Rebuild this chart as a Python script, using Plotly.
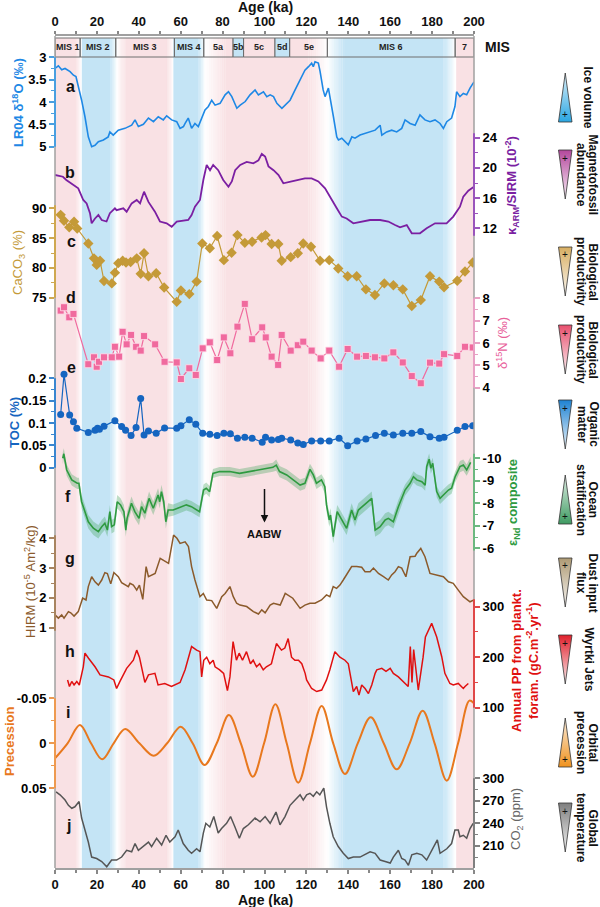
import plotly.graph_objects as go

# ------------------------------------------------------------------ data
# a: LR04 benthic d18O (permil)
a_age = [0, 1.6, 3.2, 4.8, 7.2, 8.8, 10, 11.1, 12.7, 14.3,
         15.9, 17.5, 19.1, 20.7, 23.1, 25.4, 26.2, 27.8, 30.2, 33.4,
         36.6, 38.2, 39.8, 42.2, 44.6, 47, 49.3, 51.7, 53.3, 55.7,
         58.1, 59.7, 61.3, 62.1, 63.6, 65.2, 66.8, 68.4, 70, 71.6,
         73.2, 74.8, 76.4, 78.8, 81.2, 82.8, 84.4, 86.8, 88.4, 90.8,
         93.1, 95.5, 97.1, 99.5, 101.1, 102.7, 104.3, 105.9, 108.3, 110.6,
         112.2, 114.6, 117, 119.3, 121, 122.5, 123.3, 124.1, 125.7, 126.5,
         128, 128.9, 130.5, 131.3, 132.9, 134.5, 135.3, 136.9, 138.5, 140,
         141.7, 143.2, 145.6, 148, 150.4, 152.8, 155.2, 156, 158.3, 160.7,
         163.1, 165.5, 167.1, 169.5, 171.9, 174.2, 176.6, 179, 181.4, 183.8,
         185.4, 187, 189.3, 190.9, 191.7, 193.3, 194.9, 196.5, 198.1, 200]
a_val = [3.25, 3.19, 3.28, 3.25, 3.32, 3.40, 3.43, 3.62, 3.96, 4.33,
         4.78, 5.0, 4.97, 4.89, 4.85, 4.78, 4.67, 4.74, 4.63, 4.59,
         4.52, 4.40, 4.55, 4.50, 4.36, 4.44, 4.33, 4.40, 4.31, 4.40,
         4.44, 4.59, 4.55, 4.48, 4.36, 4.59, 4.48, 4.55, 4.36, 4.18,
         4.10, 3.96, 4.07, 4.03, 3.84, 3.77, 3.88, 4.14, 4.07, 3.99,
         3.84, 3.73, 3.84, 3.77, 3.88, 3.84, 3.88, 4.03, 4.14, 4.03,
         3.96, 3.73, 3.51, 3.29, 3.21, 3.13, 3.21, 3.10, 3.13, 3.31,
         3.73, 3.88, 3.69, 3.88, 4.33, 4.78, 4.85, 4.81, 4.89, 4.96,
         4.78, 4.81, 4.74, 4.70, 4.67, 4.63, 4.52, 4.74, 4.67, 4.63,
         4.67, 4.59, 4.40, 4.48, 4.52, 4.29, 4.40, 4.44, 4.40, 4.48,
         4.59, 4.44, 4.36, 4.10, 3.77, 3.88, 3.81, 3.84, 3.69, 3.55]

# b: kARM/SIRM (10^-2)
b_age = [0, 3.8, 5.4, 7.8, 11.1, 13.5, 15.1, 16.7, 17.5, 19.1,
         20.7, 22.3, 24.6, 26.2, 28.6, 29.4, 32.6, 34.2, 36.6, 39,
         40.6, 42.5, 44.6, 47.7, 50.1, 53.3, 55.7, 58.1, 63.6, 65.2,
         66.8, 69.2, 70.8, 72.4, 74, 75.5, 77.9, 80.3, 82.8, 84.4,
         86, 88.4, 91.5, 94.7, 97.1, 98.7, 100.3, 101.9, 104.3, 106.7,
         109, 113, 117, 119.3, 122.5, 125.7, 128.9, 132, 134.5, 136.9,
         139.2, 142.4, 146.4, 150.4, 155.2, 159.1, 162.3, 164.7, 167.9, 170.3,
         174.2, 177.4, 181.4, 186.9, 190.1, 193.3, 194.9, 197.3, 200]
b_val = [19.06, 18.83, 18.4, 17.96, 17.3, 15.75, 15.3, 14.0, 12.66, 13.3,
         13.76, 13.1, 12.9, 14.0, 14.65, 14.4, 14.65, 14.2, 15.3, 15.75,
         15.3, 16.85, 15.5, 14.2, 12.9, 12.66, 12.2, 12.9, 13.1, 13.76,
         14.86, 15.75, 18.4, 20.4, 19.7, 20.4, 19.7, 18.4, 17.5, 18.2,
         19.7, 20.4, 20.8, 20.6, 21.0, 21.85, 21.5, 20.2, 19.7, 19.06,
         17.96, 18.2, 18.5, 18.6, 18.6, 18.2, 17.3, 15.75, 14.65, 13.55,
         13.3, 12.66, 12.9, 13.1, 13.1, 12.9, 12.43, 12.13, 12.43, 11.34,
         11.34, 12.0, 12.66, 12.66, 13.55, 14.86, 16.2, 16.98, 17.5]

# c: CaCO3 (%)
c_age = [2.7, 4.3, 6.8, 9.1, 10.6, 15.9, 18.6, 19.9, 21.5, 23.4,
         27.1, 28.6, 30.2, 32.3, 33.9, 36.1, 39, 40.9, 42.5, 44.6,
         48.3, 52.1, 58.1, 60.1, 64.1, 67.6, 70.3, 73.9, 77.4, 80.6,
         84.3, 87.1, 90.6, 94.1, 98.6, 100.5, 103.4, 106.6, 108.2, 112.5,
         115.9, 118.5, 122.2, 126.5, 130.9, 135.2, 139.7, 144, 148.4, 152.7,
         157.2, 161.5, 166, 170.3, 174.6, 179, 183.4, 185.7, 192, 195.7,
         199.4]
c_val = [88.9, 87.9, 86.8, 87.75, 86.6, 84.1, 81.6, 80.5, 81.2, 77.8,
         77.4, 79.2, 80.8, 81.2, 80.9, 81.0, 81.6, 79.0, 82.45, 78.6,
         79.1, 76.7, 74.3, 76.2, 75.6, 77.7, 84.1, 83.3, 85.35, 81.3,
         82.55, 85.5, 84.2, 84.4, 85.1, 85.5, 84.0, 84.0, 81.2, 81.8,
         82.45, 84.1, 83.55, 81.2, 81.3, 79.9, 78.6, 78.6, 76.4, 75.45,
         77.4, 77.1, 76.4, 73.6, 74.6, 78.6, 77.7, 76.75, 77.85, 79.4,
         80.9]

# d: d15N (permil)
d_age = [2.7, 4.3, 6.8, 8.8, 15.9, 18.6, 19.9, 21, 23.4, 27.1,
         28.6, 30.6, 32.3, 34.2, 36.3, 38.7, 40.9, 42.5, 47.8, 52.3,
         58.1, 60.1, 64.1, 67.2, 70.5, 73.9, 77.4, 80.6, 83.7, 87.1,
         90.6, 94.1, 98.9, 100.6, 103.4, 106.5, 108.2, 112.5, 115.9, 118.5,
         122.5, 126.8, 130.9, 135.6, 139.7, 144.2, 148.4, 152.7, 157.2, 161.5,
         166, 170.3, 174.6, 179, 183.4, 185.7, 192, 195.7, 199.4]
d_val = [7.45, 7.6, 7.15, 7.3, 5.05, 5.36, 4.94, 5.16, 5.36, 5.36,
         5.83, 5.39, 6.5, 5.94, 6.36, 5.83, 5.66, 6.31, 5.94, 5.16,
         5.13, 4.39, 4.87, 4.57, 5.76, 6.03, 5.24, 6.25, 5.54, 6.73,
         7.75, 6.17, 6.7, 6.25, 5.39, 5.02, 6.36, 5.66, 5.9, 6.06,
         5.66, 5.31, 5.66, 4.94, 5.73, 5.39, 5.42, 5.36, 5.31, 5.58,
         5.13, 4.52, 4.2, 5.12, 5.08, 5.5, 5.42, 5.83, 5.8]

# e: TOC (%)
e_age = [2.7, 4.3, 7, 8.8, 10.4, 15.9, 19.1, 20.3, 21.2, 23.4,
         28.6, 31.8, 33.7, 36.3, 38.7, 40.9, 42.5, 44.6, 48.3, 52.3,
         58.1, 60.1, 64.1, 67.2, 70.5, 73.9, 77.4, 80.6, 83.7, 87.1,
         90.6, 94.1, 98.9, 100.5, 103.4, 106.6, 108.2, 112.5, 115.9, 118.5,
         122.5, 126.8, 130.9, 135.6, 139.7, 144.2, 148.4, 153, 157.2, 161.5,
         166, 170.3, 174.6, 179, 183.4, 185.7, 192, 195.7, 199.4]
e_val = [0.119, 0.209, 0.118, 0.103, 0.088, 0.079, 0.084, 0.088, 0.086, 0.093,
         0.105, 0.092, 0.084, 0.072, 0.090, 0.155, 0.073, 0.082, 0.077, 0.089,
         0.088, 0.094, 0.107, 0.097, 0.077, 0.075, 0.072, 0.077, 0.076, 0.066,
         0.068, 0.066, 0.057, 0.068, 0.062, 0.063, 0.066, 0.062, 0.055, 0.052,
         0.060, 0.060, 0.060, 0.066, 0.049, 0.060, 0.064, 0.072, 0.077, 0.073,
         0.077, 0.077, 0.081, 0.069, 0.066, 0.068, 0.084, 0.092, 0.094]

# f: eNd composite and its uncertainty
f_age = [3.7, 4.2, 5.6, 8, 10.6, 11.4, 12.7, 14.3, 15.9, 18.3,
         20.7, 22.3, 23.8, 25, 26.2, 27, 28.3, 29.7, 31.3, 32.9,
         33.8, 34.4, 36.5, 38.1, 40.1, 41.3, 42.9, 44.9, 46.9, 49.2,
         50, 50.8, 51.9, 52.9, 54, 56.4, 59.6, 62.7, 65.1, 69,
         70.9, 72.2, 73.8, 75.4, 78.6, 83.4, 88.1, 93, 99.3, 104,
         105.6, 107.2, 110.6, 113.8, 117, 119.3, 121.7, 123.3, 124.8, 127.2,
         128.8, 129.6, 130.9, 131.5, 132.8, 134.7, 136.8, 139.2, 141.6, 143.2,
         144.8, 146.4, 151.2, 152.8, 155.2, 157.6, 159.1, 161.5, 163.9, 167.1,
         169.5, 171.1, 172.7, 175.1, 176.7, 177.4, 178.6, 179.4, 180.3, 182.2,
         183.8, 185.4, 187.8, 189.3, 191, 193.3, 194.9, 196.5, 198.4]
f_val = [-10.0, -10.2, -9.48, -9.04, -8.89, -8.89, -8.07, -7.63, -7.18, -6.89,
         -6.74, -6.96, -7.11, -6.81, -7.63, -6.96, -7.04, -8.07, -7.93, -7.63,
         -6.81, -7.33, -8.0, -7.63, -7.33, -7.85, -7.56, -8.22, -7.78, -8.37,
         -8.07, -8.52, -8.07, -7.18, -7.70, -7.70, -7.82, -7.93, -7.85, -7.63,
         -8.59, -8.67, -8.52, -9.33, -9.41, -9.41, -9.33, -9.41, -9.51, -9.6,
         -9.70, -9.41, -9.26, -9.04, -8.81, -8.89, -9.51, -9.26, -8.89, -9.04,
         -8.74, -7.93, -7.26, -7.48, -6.52, -7.63, -7.26, -6.89, -7.70, -7.26,
         -7.70, -7.82, -8.22, -6.81, -6.96, -7.26, -7.33, -7.18, -7.85, -8.59,
         -8.89, -9.18, -9.04, -8.96, -8.81, -9.63, -9.96, -9.56, -9.78, -8.52,
         -8.22, -8.37, -8.59, -8.67, -9.18, -9.63, -9.70, -9.48, -9.82]
f_err = [0.25, 0.25, 0.25, 0.25, 0.25, 0.25, 0.3, 0.3, 0.3, 0.3,
         0.3, 0.3, 0.3, 0.3, 0.3, 0.3, 0.3, 0.3, 0.3, 0.3,
         0.3, 0.3, 0.3, 0.3, 0.3, 0.3, 0.3, 0.3, 0.3, 0.3,
         0.3, 0.3, 0.3, 0.3, 0.3, 0.25, 0.25, 0.25, 0.25, 0.25,
         0.25, 0.25, 0.25, 0.2, 0.2, 0.2, 0.2, 0.2, 0.2, 0.2,
         0.25, 0.25, 0.25, 0.25, 0.25, 0.25, 0.25, 0.25, 0.25, 0.25,
         0.3, 0.3, 0.3, 0.3, 0.3, 0.3, 0.3, 0.3, 0.3, 0.3,
         0.3, 0.3, 0.3, 0.3, 0.3, 0.3, 0.3, 0.3, 0.3, 0.25,
         0.25, 0.25, 0.25, 0.25, 0.25, 0.25, 0.25, 0.25, 0.25, 0.25,
         0.25, 0.25, 0.25, 0.25, 0.25, 0.25, 0.25, 0.25, 0.25]

# g: HIRM (10^-5 Am2/kg)
g_age = [0, 1.6, 3.2, 4.3, 6.4, 7.5, 9.1, 11.1, 13.2, 14.8,
         15.9, 17.5, 19.1, 20.7, 22.3, 23.8, 25, 26.6, 28.1, 30.2,
         31.8, 33.4, 35, 35.8, 37.4, 39, 40.3, 41.9, 43.5, 44.6,
         47.8, 50.2, 52.6, 54.2, 56.6, 58.2, 59.7, 62.1, 63.7, 65.2,
         66.8, 69.2, 70.8, 72.4, 74.8, 77.2, 79.6, 81.2, 83.5, 85.1,
         86.7, 88.3, 91.5, 94.7, 97.1, 98.7, 100.3, 102.7, 104.3, 107.5,
         109.9, 111.5, 113.5, 117, 119.3, 121.7, 124.1, 127.2, 129.6, 131.2,
         132.8, 134.4, 136, 137.6, 140, 141.6, 144, 146.4, 148, 150.4,
         152, 154.4, 156.8, 159.1, 160.7, 162.3, 163.9, 165.5, 167.5, 169.5,
         171.9, 172.7, 174.6, 176.6, 179, 182.2, 185.4, 187.8, 190.1, 192.5,
         194.9, 198.1, 200]
g_val = [1.43, 1.32, 1.43, 1.32, 1.54, 1.5, 1.39, 1.54, 1.99, 1.93,
         2.38, 2.71, 2.54, 2.43, 2.6, 2.85, 2.82, 2.47, 2.85, 2.71,
         2.51, 2.43, 2.38, 2.49, 2.43, 2.26, 2.43, 1.95, 3.05, 2.71,
         2.82, 3.33, 3.21, 3.16, 4.11, 4.0, 3.83, 3.88, 3.72, 3.05,
         2.6, 2.04, 2.15, 1.93, 1.91, 1.65, 2.04, 2.15, 2.38, 2.04,
         1.82, 1.76, 1.71, 1.54, 1.46, 1.6, 1.5, 1.76, 1.82, 1.76,
         2.15, 2.07, 1.99, 1.65, 1.76, 1.82, 1.82, 1.93, 2.1, 2.04,
         2.38, 2.32, 2.43, 2.6, 2.88, 3.05, 3.05, 3.03, 2.88, 2.88,
         3.0, 2.82, 2.71, 2.6, 2.77, 2.88, 3.05, 3.0, 2.71, 3.38,
         3.40, 3.5, 3.66, 3.38, 2.82, 2.77, 2.71, 2.54, 2.49, 2.26,
         2.04, 1.87, 1.93]

# h: annual PP from planktonic foraminifera (gC m-2 yr-1)
h_age = [6, 6.9, 8, 9.1, 10.4, 11.6, 13.5, 14.3, 16, 19.1,
         21.5, 25.5, 28.1, 29.4, 31, 32.6, 34.2, 37.4, 39, 40.3,
         41.3, 42.9, 44.6, 47.7, 49.2, 52.4, 55.6, 57.3, 59.7, 62.1,
         65.2, 67.6, 69.2, 70, 71, 72.4, 73.9, 75.5, 76.4, 78.6,
         80.5, 82.3, 83.5, 85, 86.6, 87.9, 89.5, 91.4, 93.3, 94.6,
         96.2, 97.7, 99.4, 100.9, 103.3, 105.7, 108.1, 109.7, 111.3, 112.9,
         114.5, 116.2, 117.8, 119.4, 120.1, 122.5, 124.9, 127.3, 129.6, 131.2,
         132.8, 133.6, 136, 138.4, 140, 141.6, 142.4, 144, 145.1, 146.4,
         148, 149.6, 151.2, 152.8, 153.6, 156, 158, 160, 161.5, 163.9,
         167.1, 168.6, 169.6, 170.4, 171.2, 173.4, 175.7, 176.8, 179.8, 182.2,
         184.6, 186.1, 188.5, 190.1, 192.5, 194.9, 195.7, 197.3]
h_val = [155, 142, 152, 145, 152, 145, 181, 208, 198, 181,
         165, 161, 155, 138, 152, 165, 178, 194, 214, 200,
         181, 150, 165, 168, 145, 148, 142, 145, 150, 175,
         221, 214, 211, 161, 194, 200, 187, 194, 181, 175,
         168, 134, 161, 231, 194, 208, 194, 211, 187, 194,
         181, 187, 175, 181, 187, 227, 214, 218, 237, 200,
         194, 194, 187, 168, 155, 138, 132, 135, 155, 175,
         200, 211, 200, 194, 187, 152, 132, 142, 125, 145,
         138, 128, 145, 168, 175, 178, 172, 178, 168, 161,
         148, 142, 221, 150, 215, 135, 200, 240, 267, 240,
         201, 168, 148, 145, 148, 138, 142, 148]

# i: orbital precession (extrema and zero crossings)
i_age = [0, 6, 11.9, 17.2, 22.5, 28, 33.5, 40.3, 47.1, 53.5,
         60, 65.7, 71.4, 77.2, 83, 88.7, 94.4, 99.8, 105.2, 110.6,
         116.1, 121.7, 127.3, 132.8, 138.4, 144.5, 150.7, 156.9, 163.1, 169.3,
         175.5, 181.2, 187, 192.4, 197.8, 200]
i_val = [0.0167, 0, -0.0203, 0, 0.0178, 0, -0.0159, 0, 0.0138, 0,
         -0.0185, 0, 0.0241, 0, -0.0314, 0, 0.0371, 0, -0.0433, 0,
         0.0437, 0, -0.0414, 0, 0.0341, 0, -0.0289, 0, 0.0289, 0,
         -0.0363, 0, 0.0415, 0, -0.0474, -0.0444]

# j: atmospheric CO2 (ppm)
j_age = [0.5, 2.4, 4.8, 6.4, 8, 9.5, 11.5, 12.7, 14.3, 15.9,
         17.5, 19.9, 22.3, 24.7, 27, 29.4, 31.8, 34.2, 36.6, 38.2,
         39.8, 42.2, 44.6, 46.1, 48.5, 50.9, 53, 54.8, 57.3, 58.8,
         61.2, 63.6, 65.2, 67.6, 69.2, 70.8, 72, 73.9, 75.8, 77.9,
         79.5, 81.9, 83.8, 85.9, 88, 89.9, 92.3, 95.5, 97.9, 100.3,
         102.7, 105.5, 107.4, 109.8, 112.2, 114.6, 117, 118.5, 120.1, 121.7,
         123.3, 124.9, 126.4, 128.3, 129.6, 131.2, 132.8, 135.2, 137.6, 140,
         142.4, 145.6, 148, 150.4, 152.8, 155.2, 157.6, 160, 161.5, 163.9,
         165.5, 167.1, 168.7, 170.3, 172.7, 175.1, 177.4, 179.8, 181.4, 182.5,
         183.8, 187, 189.3, 190.9, 192.5, 193.3, 194.9, 196.5, 198.1, 199.6]
j_val = [282, 278, 271, 264, 260, 262, 269, 247, 231, 215,
         195, 193, 189, 182, 191, 191, 195, 204, 202, 213,
         204, 209, 215, 209, 220, 211, 224, 215, 222, 231,
         213, 204, 200, 206, 202, 227, 240, 235, 249, 227,
         233, 240, 249, 235, 220, 233, 238, 247, 242, 249,
         240, 255, 238, 249, 264, 271, 278, 271, 278, 280,
         276, 282, 278, 287, 262, 240, 222, 209, 200, 193,
         195, 195, 198, 202, 200, 191, 189, 187, 195, 204,
         193, 191, 184, 198, 200, 198, 191, 204, 211, 218,
         200, 206, 213, 231, 231, 222, 224, 220, 233, 240]

# climate stage shading and MIS boxes (ka)
band_start = [0, 12.8, 29.5, 56.5, 71.5, 130, 191.5]
band_end = [12.5, 29.5, 56.5, 71.5, 130, 191, 200]
band_kind = ["pink", "blue", "pink", "blue", "pink", "blue", "pink"]
band_fade_in = [0, 0, 4, 0, 10, 8, 0]
band_fade_out = [2.5, 3, 3, 3, 9, 5.5, 0]

mis_start = [0, 12, 29, 57, 71, 85, 90, 105, 112, 130, 191]
mis_end = [12, 29, 57, 71, 85, 90, 105, 112, 130, 191, 200]
mis_label = ["MIS 1", "MIS 2", "MIS 3", "MIS 4", "5a", "5b", "5c", "5d", "5e", "MIS 6", "7"]
mis_fill = [None, None, None, None, None, "blue", None, "blue", None, None, None]

age_ticks = [0, 20, 40, 60, 80, 100, 120, 140, 160, 180, 200]

# side legend
leg_labels = ["Ice volume", "Magnetofossil<br>abundance", "Biological<br>productivity",
              "Biological<br>productivity", "Organic<br>matter", "Ocean<br>stratification",
              "Dust input<br>flux", "Wyrtki Jets", "Orbital<br>precession", "Global<br>temperature"]
leg_colors = ["#2AA6E2", "#B4479C", "#D8AE62", "#E8506E", "#1E82D2",
              "#3F9B62", "#AE9A74", "#E0202C", "#F0921E", "#7F7F7F"]
leg_apex_up = [True, False, False, False, False, True, False, False, True, False]

# ------------------------------------------------------------------ geometry
W, H = 600, 907
X0, X1, YT, YB = 55, 474, 36, 868
FONT = "Liberation Sans, Arial, sans-serif"


def fx(p):
    return p / W


def fy(p):
    return (H - p) / H


def cal_range(v1, p1, v2, p2):
    s = (v2 - v1) / (p2 - p1)
    return [v1 + (YB - p1) * s, v1 + (YT - p1) * s]


def lighten(hx, f):
    r, g, b = int(hx[1:3], 16), int(hx[3:5], 16), int(hx[5:7], 16)
    r, g, b = [int(c + (255 - c) * f) for c in (r, g, b)]
    return "rgb(%d,%d,%d)" % (r, g, b)


fig = go.Figure()
shapes = []
ann = []

# ---------------------------------------------------------- background bands
BAND_RGB = {"pink": (249, 225, 228), "blue": (196, 228, 245)}
NSTEP = 10
band_y0, band_y1 = fy(YB), fy(38)
for s, e, k, fi, fo in zip(band_start, band_end, band_kind, band_fade_in, band_fade_out):
    r, g, b = BAND_RGB[k]
    f0, f1 = s + fi, e - fo
    shapes.append(dict(type="rect", xref="x", yref="paper", x0=f0, x1=f1, y0=band_y0, y1=band_y1,
                       fillcolor="rgb(%d,%d,%d)" % (r, g, b), line=dict(width=0), layer="below"))
    for j in range(NSTEP):
        if fi > 0:
            a = (j + 0.5) / NSTEP
            shapes.append(dict(type="rect", xref="x", yref="paper",
                               x0=s + fi * j / NSTEP, x1=s + fi * (j + 1) / NSTEP + 0.05,
                               y0=band_y0, y1=band_y1, fillcolor="rgba(%d,%d,%d,%.3f)" % (r, g, b, a),
                               line=dict(width=0), layer="below"))
        if fo > 0:
            a = 1 - (j + 0.5) / NSTEP
            shapes.append(dict(type="rect", xref="x", yref="paper",
                               x0=f1 + fo * j / NSTEP - 0.05, x1=f1 + fo * (j + 1) / NSTEP,
                               y0=band_y0, y1=band_y1, fillcolor="rgba(%d,%d,%d,%.3f)" % (r, g, b, a),
                               line=dict(width=0), layer="below"))

# MIS boxes
for s, e, lab, fill in zip(mis_start, mis_end, mis_label, mis_fill):
    shapes.append(dict(type="rect", xref="x", yref="paper", x0=s, x1=e, y0=fy(57), y1=fy(38),
                       fillcolor=("rgb(%d,%d,%d)" % BAND_RGB[fill]) if fill else "rgba(0,0,0,0)",
                       line=dict(color="#6E6E6E", width=1), layer="above"))
    ann.append(dict(text="<b>%s</b>" % lab, x=(s + e) / 2, xref="x", y=fy(47.5), yref="paper",
                    showarrow=False, font=dict(family=FONT, size=9, color="#222"),
                    xanchor="center", yanchor="middle"))
ann.append(dict(text="<b>MIS</b>", x=fx(483), y=fy(47.5), xref="paper", yref="paper", showarrow=False,
                font=dict(family=FONT, size=14, color="#111"), xanchor="left", yanchor="middle"))

# frame lines (grey left/right spines)
for xp in (X0, X1):
    shapes.append(dict(type="line", xref="paper", yref="paper", x0=fx(xp), x1=fx(xp),
                       y0=fy(YB), y1=fy(YT), line=dict(color="#A0A0A0", width=1.5)))

# ---------------------------------------------------------- panels / axes
panels = [
    dict(side="left", cal=(3, 57.3, 5, 146.7), tv=[3, 3.5, 4, 4.5, 5], tt=["3", "3.5", "4", "4.5", "5"],
         minor=[3.25, 3.75, 4.25, 4.75], seg=(3, 5), axc="#4A9FE0"),
    dict(side="right", cal=(24, 137.7, 12, 228.3), tv=[12, 16, 20, 24], tt=["12", "16", "20", "24"],
         minor=[14, 18, 22], seg=(11, 24.6), axc="#9A55BC"),
    dict(side="left", cal=(90, 208.3, 75, 297.7), tv=[75, 80, 85, 90], tt=["75", "80", "85", "90"],
         minor=[77.5, 82.5, 87.5], seg=(75, 90.5), axc="#CFA850"),
    dict(side="right", cal=(8, 298.3, 4, 387.7), tv=[4, 5, 6, 7, 8], tt=["4", "5", "6", "7", "8"],
         minor=[4.5, 5.5, 6.5, 7.5], seg=(4, 8), axc="#E8A0C4"),
    dict(side="left", cal=(0.2, 378.3, 0, 467.7), tv=[0, 0.05, 0.1, 0.15, 0.2],
         tt=["0", "0.05", "0.1", "0.15", "0.2"], minor=[0.025, 0.075, 0.125, 0.175], seg=(0, 0.2), axc="#3A86D0"),
    dict(side="right", cal=(-10, 458.3, -6, 548.3), tv=[-10, -9, -8, -7, -6],
         tt=["-10", "-9", "-8", "-7", "-6"], minor=[-9.5, -8.5, -7.5, -6.5], seg=(-10.2, -5.9), axc="#6CB880"),
    dict(side="left", cal=(4, 538.3, 1, 627.7), tv=[1, 2, 3, 4], tt=["1", "2", "3", "4"],
         minor=[1.5, 2.5, 3.5], seg=(0.9, 4.1), axc="#A88460"),
    dict(side="right", cal=(300, 606.7, 100, 707.7), tv=[100, 200, 300], tt=["100", "200", "300"],
         minor=[150, 250], seg=(100, 315), axc="#E04848"),
    dict(side="left", cal=(-0.05, 698.3, 0.05, 788.3), tv=[-0.05, 0, 0.05], tt=["-0.05", "0", "0.05"],
         minor=[-0.025, 0.025], seg=(-0.05, 0.05), axc="#EE9A50"),
    dict(side="right", cal=(300, 778.3, 180, 868.3), tv=[180, 210, 240, 270, 300],
         tt=["180", "210", "240", "270", "300"], minor=[195, 225, 255, 285], seg=(180, 300), axc="#808080"),
]

layout_axes = {}
for k, p in enumerate(panels):
    name = "yaxis" if k == 0 else "yaxis%d" % (k + 1)
    ref = "y" if k == 0 else "y%d" % (k + 1)
    ax = dict(domain=[fy(YB), fy(YT)], range=cal_range(*p["cal"]), anchor="x", side=p["side"],
              tickmode="array", tickvals=p["tv"], ticktext=p["tt"], ticks="outside", ticklen=5,
              tickwidth=1.5, tickcolor=p["axc"], showline=False, showgrid=False, zeroline=False,
              tickfont=dict(family=FONT, size=13, color="black", weight="bold"),
              minor=dict(tickmode="array", tickvals=p["minor"], ticks="outside", ticklen=3,
                         tickwidth=1, tickcolor=p["axc"], showgrid=False),
              fixedrange=True, automargin=False)
    if k > 0:
        ax["overlaying"] = "y"
    layout_axes[name] = ax
    xp = X0 if p["side"] == "left" else X1
    shapes.append(dict(type="line", xref="paper", yref=ref, x0=fx(xp), x1=fx(xp),
                       y0=p["seg"][0], y1=p["seg"][1], line=dict(color=p["axc"], width=2)))

# ---------------------------------------------------------- traces
C_A, C_B, C_C, C_D, C_E = "#1E88E5", "#7B1FA2", "#C49A38", "#F06A9E", "#1565C0"
C_F, C_G, C_H, C_I, C_J = "#2E9A40", "#8B5A2B", "#E01010", "#E8781E", "#555555"

fig.add_trace(go.Scatter(x=a_age, y=a_val, yaxis="y", mode="lines", line=dict(color=C_A, width=1.6)))
fig.add_trace(go.Scatter(x=a_age, y=a_val, xaxis="x2", yaxis="y", mode="lines",
                         line=dict(width=0), opacity=0, hoverinfo="skip"))
fig.add_trace(go.Scatter(x=b_age, y=b_val, yaxis="y2", mode="lines", line=dict(color=C_B, width=1.8)))
fig.add_trace(go.Scatter(x=c_age, y=c_val, yaxis="y3", mode="lines+markers",
                         line=dict(color=C_C, width=1.2),
                         marker=dict(symbol="diamond", size=8, color=C_C)))
fig.add_trace(go.Scatter(x=d_age, y=d_val, yaxis="y4", mode="lines+markers",
                         line=dict(color=C_D, width=1.2),
                         marker=dict(symbol="square", size=7, color=C_D, line=dict(color="#FFE0EC", width=0.8))))
fig.add_trace(go.Scatter(x=e_age, y=e_val, yaxis="y5", mode="lines+markers",
                         line=dict(color=C_E, width=1.2),
                         marker=dict(symbol="circle", size=7, color=C_E)))
f_hi = [v + e for v, e in zip(f_val, f_err)]
f_lo = [v - e for v, e in zip(f_val, f_err)]
fig.add_trace(go.Scatter(x=f_age, y=f_hi, yaxis="y6", mode="lines", line=dict(width=0), hoverinfo="skip"))
fig.add_trace(go.Scatter(x=f_age, y=f_lo, yaxis="y6", mode="lines", line=dict(width=0), fill="tonexty",
                         fillcolor="rgba(70,165,95,0.35)", hoverinfo="skip"))
fig.add_trace(go.Scatter(x=f_age, y=f_val, yaxis="y6", mode="lines", line=dict(color=C_F, width=1.6)))
fig.add_trace(go.Scatter(x=g_age, y=g_val, yaxis="y7", mode="lines", line=dict(color=C_G, width=1.5)))
fig.add_trace(go.Scatter(x=h_age, y=h_val, yaxis="y8", mode="lines", line=dict(color=C_H, width=1.5)))
fig.add_trace(go.Scatter(x=i_age, y=i_val, yaxis="y9", mode="lines",
                         line=dict(color=C_I, width=2, shape="spline", smoothing=1.0)))
fig.add_trace(go.Scatter(x=j_age, y=j_val, yaxis="y10", mode="lines", line=dict(color=C_J, width=1.5)))

# ---------------------------------------------------------- side legend (triangles)
TRI_L, TRI_R, TRI_H = 558.5, 572.0, 49
leg_top = [73, 150, 247, 325, 400, 475, 558, 635, 718, 803]
for lab, col, up, top in zip(leg_labels, leg_colors, leg_apex_up, leg_top):
    bot = top + TRI_H
    mid = (TRI_L + TRI_R) / 2
    if up:
        xs = [TRI_L, TRI_R, mid, TRI_L]
        ys = [H - bot, H - bot, H - top, H - bot]
        cs = [[0, col], [1, lighten(col, 0.85)]]
        plus_y = bot - 8
    else:
        xs = [TRI_L, TRI_R, mid, TRI_L]
        ys = [H - top, H - top, H - bot, H - top]
        cs = [[0, lighten(col, 0.92)], [1, col]]
        plus_y = top + 8
    fig.add_trace(go.Scatter(x=xs, y=ys, xaxis="x3", yaxis="y11", mode="lines", fill="toself",
                             fillgradient=dict(type="vertical", colorscale=cs),
                             line=dict(color="#333333", width=0.8), hoverinfo="skip"))
    ann.append(dict(text="+", x=fx(mid), y=fy(plus_y), xref="paper", yref="paper", showarrow=False,
                    font=dict(family=FONT, size=10, color="#111"), xanchor="center", yanchor="middle"))
    lines = lab.split("<br>")
    xs_txt = [588] if len(lines) == 1 else [593, 581.5]
    for line_txt, xt in zip(lines, xs_txt):
        ann.append(dict(text="<b>%s</b>" % line_txt, x=fx(xt), y=fy((top + bot) / 2), xref="paper",
                        yref="paper", showarrow=False, textangle=90,
                        font=dict(family=FONT, size=12, color="#111"),
                        xanchor="center", yanchor="middle"))

# ---------------------------------------------------------- texts
panel_letters = [("a", 70, 86), ("b", 70, 172), ("c", 71, 242), ("d", 71, 297), ("e", 71, 367),
                 ("f", 68, 496), ("g", 70, 558), ("h", 70, 652), ("i", 68, 713), ("j", 68, 825)]
for t, xp, yp in panel_letters:
    ann.append(dict(text="<b>%s</b>" % t, x=fx(xp), y=fy(yp), xref="paper", yref="paper", showarrow=False,
                    font=dict(family=FONT, size=16, color="#111"), xanchor="center", yanchor="middle"))

titles = [
    ("<b>LR04 δ<sup>18</sup>O (‰)</b>", 18, 103, C_A),
    ("CaCO<sub>3</sub> (%)", 18, 263, C_C),
    ("<b>TOC (%)</b>", 14, 423, C_E),
    ("HIRM (10<sup>-5</sup> Am<sup>2</sup>/kg)", 30, 582, C_G),
    ("<b>Precession</b>", 9, 742, C_I),
    ("<b>κ<sub>ARM</sub>/SIRM (10<sup>-2</sup>)</b>", 512, 186, C_B),
    ("δ<sup>15</sup>N (‰)", 502, 343, "#E8609A"),
    ("<b>ε<sub>Nd</sub> composite</b>", 513, 503, C_F),
    ("<b>Annual PP from plankt.<br>foram. (gC.m<sup>-2</sup>.yr<sup>-1</sup>)</b>", 525, 661, C_H),
    ("CO<sub>2</sub> (ppm)", 516, 819, "#666666"),
]
for t, xp, yp, c in titles:
    ann.append(dict(text=t, x=fx(xp), y=fy(yp), xref="paper", yref="paper", showarrow=False, textangle=-90,
                    font=dict(family=FONT, size=13, color=c), xanchor="center", yanchor="middle"))

ann.append(dict(text="<b>Age (ka)</b>", x=fx(265), y=fy(7.5), xref="paper", yref="paper", showarrow=False,
                font=dict(family=FONT, size=14, color="#111"), xanchor="center", yanchor="middle",
                borderpad=0))
ann.append(dict(text="<b>Age (ka)</b>", x=fx(265), y=fy(900), xref="paper", yref="paper", showarrow=False,
                font=dict(family=FONT, size=14, color="#111"), xanchor="center", yanchor="middle",
                borderpad=0))

# AABW arrow (in the eNd panel)
ann.append(dict(text="", x=100, y=-7.15, xref="x", yref="y6", ax=0, ay=-35, axref="pixel", ayref="pixel",
                showarrow=True, arrowhead=2, arrowsize=1, arrowwidth=1.5, arrowcolor="#111"))
ann.append(dict(text="<b>AABW</b>", x=100, y=-6.63, xref="x", yref="y6", showarrow=False,
                font=dict(family=FONT, size=11, color="#111"), xanchor="center", yanchor="middle"))

# ---------------------------------------------------------- layout
xcommon = dict(range=[0, 200], tickmode="array", tickvals=age_ticks, ticks="outside",
               tickwidth=1.5, tickcolor="#888", showline=True, linecolor="#A0A0A0", linewidth=1.5,
               showgrid=False, zeroline=False, fixedrange=True, automargin=False,
               tickfont=dict(family=FONT, size=13, color="#111", weight="bold"),
               minor=dict(dtick=10, tick0=0, ticks="outside", ticklen=3, tickcolor="#888", showgrid=False))

fig.update_layout(
    width=W, height=H, margin=dict(l=0, r=0, t=0, b=0),
    paper_bgcolor="white", plot_bgcolor="rgba(0,0,0,0)", showlegend=False, hovermode=False,
    xaxis=dict(domain=[fx(X0), fx(X1)], anchor="y", side="bottom", ticklen=4, **xcommon),
    xaxis2=dict(domain=[fx(X0), fx(X1)], anchor="y", side="top", overlaying="x", ticklen=3, **xcommon),
    xaxis3=dict(domain=[fx(537), 1.0], range=[537, W], anchor="y11", visible=False, fixedrange=True),
    yaxis11=dict(domain=[0, 1], range=[0, H], anchor="x3", visible=False, fixedrange=True),
    shapes=shapes, annotations=ann,
    font=dict(family=FONT),
    **layout_axes,
)

# the page body's default 8px margin would push the 600x907 figure out of the window
fig.write_html("out.html", config={"displayModeBar": False},
               post_script="document.body.style.margin='0px';")
